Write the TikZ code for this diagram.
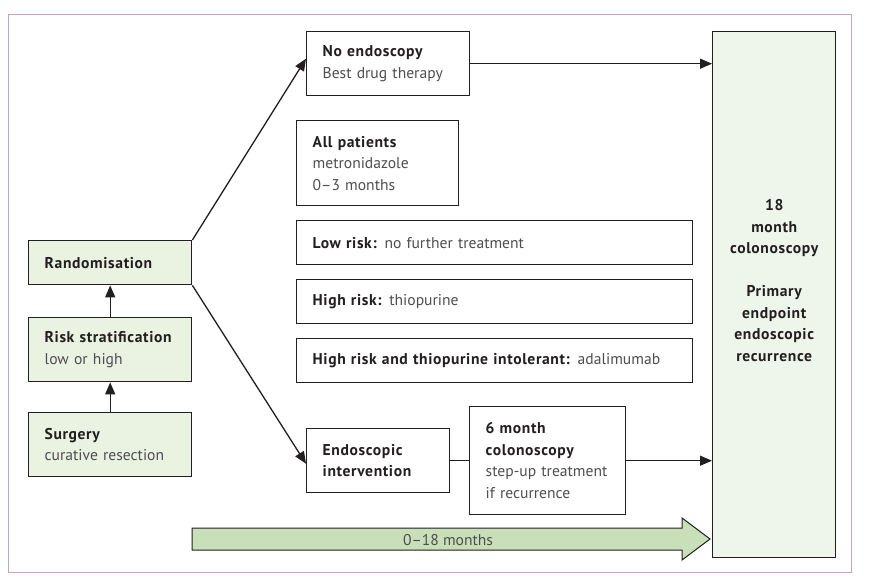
\documentclass[tikz,border=0pt]{standalone}
\usepackage{fontspec}
\setmainfont{PT Sans}[BoldFeatures={LetterSpace=4}]
\usetikzlibrary{arrows.meta}
\definecolor{boxgreen}{HTML}{EAF2E2}
\definecolor{bigg}{HTML}{EEF5EA}
\definecolor{arrowg}{HTML}{C9DFB9}
\definecolor{framec}{HTML}{C9A3BD}
\definecolor{txtdark}{HTML}{231F20}
\definecolor{txtgrey}{HTML}{4E4E4E}
\newcommand\hd[1]{{\color{txtdark}\bfseries #1}}
\tikzset{
  box/.style={draw=txtdark, line width=1.4pt, fill=white, anchor=north west,
    inner xsep=16pt, inner ysep=0pt, align=left, text=txtgrey,
    font=\fontsize{15.6}{21.5}\selectfont},
  gbox/.style={box, fill=boxgreen},
  conn/.style={draw=txtdark, line width=1.3pt, -{Triangle[length=12pt,width=10pt]}},
}
\begin{document}
\begin{tikzpicture}[x=1pt,y=-1pt]
\useasboundingbox (0,0) rectangle (872,585);
\draw[framec, line width=1pt] (8,15) rectangle (851,572);
% left column
\node[gbox, minimum width=163pt, minimum height=44pt, text width=131pt] (rand) at (28,240) {\hd{Randomisation}};
\node[gbox, minimum width=163pt, minimum height=64pt, text width=131pt] (risk) at (28,317) {\hd{Risk stratification}\\low or high};
\node[gbox, minimum width=163pt, minimum height=64pt, text width=131pt] (surg) at (28,412) {\hd{Surgery}\\curative resection};
% middle
\node[box, minimum width=163pt, minimum height=64pt, text width=131pt] (noendo) at (306,31) {\hd{No endoscopy}\\Best drug therapy};
\node[box, minimum width=162pt, minimum height=85pt, text width=130pt] (allp) at (296,120) {\hd{All patients}\\metronidazole\\0–3 months};
\node[box, minimum width=396pt, minimum height=44pt, text width=364pt] (low) at (296,220) {\hd{Low risk:} no further treatment};
\node[box, minimum width=396pt, minimum height=44pt, text width=364pt] (high) at (296,279) {\hd{High risk:} thiopurine};
\node[box, minimum width=396pt, minimum height=44pt, text width=364pt] (hat) at (296,338) {\hd{High risk and thiopurine intolerant:} adalimumab};
\node[box, minimum width=143pt, minimum height=64pt, text width=111pt] (endo) at (306,428) {\hd{Endoscopic}\\\hd{intervention}};
\node[box, minimum width=156pt, minimum height=108pt, text width=124pt] (six) at (469,406) {\hd{6 month}\\\hd{colonoscopy}\\step-up treatment\\if recurrence};
% right big box
\node[box, fill=bigg, minimum width=123pt, minimum height=526pt, text width=110pt, inner xsep=6pt, align=center] (big) at (712,31)
  {\hd{18}\\\hd{month}\\\hd{colonoscopy}\\[21.5pt]\hd{Primary}\\\hd{endpoint}\\\hd{endoscopic}\\\hd{recurrence}\\[7pt]\mbox{}};
% connectors
\draw[conn] (surg.north) -- (risk.south);
\draw[conn] (risk.north) -- (rand.south);
\draw[conn] (rand.north east) -- ([yshift=5pt]noendo.west);
\draw[conn] (rand.south east) -- ([yshift=-3pt]endo.west);
\draw[conn] (noendo.east) -- (big.west |- noendo.east);
\draw[draw=txtdark, line width=1.3pt] (endo.east) -- (endo.east -| six.west);
\draw[conn] (six.east |- endo.east) -- (big.west |- endo.east);
% timeline arrow
\draw[fill=arrowg, draw=txtdark, line width=1pt] (192,528) -- (682,528) -- (682,518) -- (710,539) -- (682,560) -- (682,550) -- (192,550) -- cycle;
\node[text=txtgrey, font=\fontsize{15.6}{18}\selectfont] (tl) at (448,540) {0–18 months};
\end{tikzpicture}
\end{document}
